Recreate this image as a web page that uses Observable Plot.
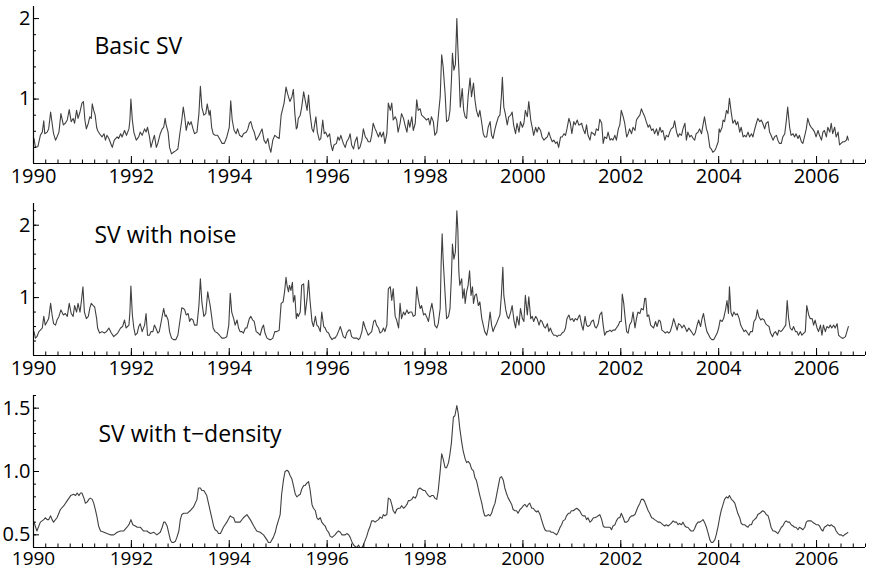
<!DOCTYPE html>
<html><head><meta charset="utf-8">
<script src="https://cdn.jsdelivr.net/npm/d3@7"></script>
<script src="https://cdn.jsdelivr.net/npm/@observablehq/plot@0.6"></script>
<style>
html,body{margin:0;padding:0;background:#fff;}
#chart{width:869px;}
#chart svg{display:block;}
</style></head><body><div id="chart"></div>
<script>
// [year, value] pairs
const basicSV = [
[1990.01,.51],[1990.04,.40],[1990.09,.41],[1990.14,.55],[1990.18,.59],[1990.21,.73],[1990.23,.57],[1990.28,.59],[1990.31,.63],[1990.35,.84],
[1990.38,.70],[1990.41,.57],[1990.45,.49],[1990.48,.53],[1990.52,.59],[1990.56,.82],[1990.61,.68],[1990.65,.70],[1990.69,.74],[1990.73,.87],
[1990.77,.72],[1990.81,.76],[1990.84,.70],[1990.88,.86],[1990.91,.76],[1990.95,.84],[1990.99,.95],[1991.02,.97],[1991.05,.74],[1991.08,.63],
[1991.12,.70],[1991.15,.78],[1991.18,.76],[1991.20,.94],[1991.23,.86],[1991.26,.80],[1991.29,.65],[1991.31,.61],[1991.35,.57],[1991.40,.53],
[1991.44,.57],[1991.47,.49],[1991.50,.55],[1991.54,.51],[1991.59,.43],[1991.61,.40],[1991.65,.49],[1991.71,.53],[1991.74,.51],[1991.78,.57],
[1991.81,.53],[1991.86,.61],[1991.90,.55],[1991.95,.63],[1991.97,.74],[1991.99,1.00],[1992.02,.74],[1992.05,.59],[1992.10,.49],[1992.15,.53],
[1992.18,.59],[1992.22,.55],[1992.27,.63],[1992.30,.59],[1992.33,.65],[1992.37,.53],[1992.40,.40],[1992.44,.49],[1992.47,.55],[1992.51,.40],
[1992.54,.45],[1992.59,.57],[1992.63,.63],[1992.66,.65],[1992.69,.76],[1992.71,.68],[1992.75,.59],[1992.78,.40],[1992.82,.32],[1992.86,.34],
[1992.91,.36],[1992.95,.38],[1992.99,.57],[1993.03,.74],[1993.06,.90],[1993.09,.78],[1993.12,.61],[1993.16,.72],[1993.19,.68],[1993.22,.72],
[1993.26,.63],[1993.29,.57],[1993.34,.59],[1993.38,.82],[1993.41,1.16],[1993.44,.90],[1993.48,.80],[1993.52,.82],[1993.55,.94],[1993.59,.80],
[1993.61,.86],[1993.64,.65],[1993.67,.57],[1993.71,.55],[1993.76,.55],[1993.80,.51],[1993.85,.45],[1993.90,.45],[1993.95,.53],[1994.00,.65],
[1994.03,.98],[1994.06,.74],[1994.10,.61],[1994.14,.57],[1994.17,.63],[1994.21,.55],[1994.26,.53],[1994.29,.57],[1994.35,.59],[1994.38,.63],
[1994.41,.70],[1994.44,.72],[1994.48,.63],[1994.51,.59],[1994.55,.49],[1994.59,.53],[1994.61,.55],[1994.67,.63],[1994.71,.49],[1994.75,.45],
[1994.79,.51],[1994.82,.40],[1994.85,.34],[1994.89,.49],[1994.93,.55],[1994.97,.53],[1995.02,.51],[1995.06,.80],[1995.10,.90],[1995.12,.95],
[1995.16,1.15],[1995.19,1.07],[1995.22,1.01],[1995.24,.97],[1995.28,1.03],[1995.31,1.12],[1995.34,.82],[1995.37,.63],[1995.39,.65],[1995.41,.76],
[1995.45,.80],[1995.48,.90],[1995.52,1.09],[1995.55,.99],[1995.59,.86],[1995.62,1.05],[1995.65,.82],[1995.69,.63],[1995.72,.59],[1995.77,.78],
[1995.80,.59],[1995.84,.49],[1995.87,.51],[1995.91,.74],[1995.94,.57],[1995.97,.59],[1996.01,.53],[1996.05,.57],[1996.08,.43],[1996.11,.36],
[1996.14,.43],[1996.19,.45],[1996.22,.53],[1996.25,.49],[1996.28,.55],[1996.33,.45],[1996.37,.40],[1996.40,.47],[1996.44,.51],[1996.47,.57],
[1996.50,.43],[1996.54,.38],[1996.57,.47],[1996.61,.53],[1996.64,.38],[1996.67,.40],[1996.71,.49],[1996.74,.63],[1996.78,.53],[1996.81,.51],
[1996.84,.47],[1996.88,.47],[1996.91,.55],[1996.94,.70],[1996.98,.63],[1997.01,.59],[1997.05,.53],[1997.08,.59],[1997.11,.53],[1997.15,.59],
[1997.18,.45],[1997.22,.57],[1997.25,.95],[1997.29,.86],[1997.32,.95],[1997.35,.74],[1997.39,.78],[1997.42,.74],[1997.45,.59],[1997.49,.70],
[1997.52,.82],[1997.56,.76],[1997.59,.68],[1997.63,.59],[1997.66,.74],[1997.69,.65],[1997.73,.78],[1997.76,.61],[1997.80,.70],[1997.83,.99],
[1997.86,.86],[1997.90,.88],[1997.93,.80],[1997.97,.78],[1998.00,.76],[1998.03,.74],[1998.07,.76],[1998.10,.68],[1998.13,.78],[1998.17,.72],
[1998.20,.55],[1998.24,.59],[1998.27,.78],[1998.31,1.03],[1998.34,1.55],[1998.37,1.40],[1998.41,1.07],[1998.44,.72],[1998.48,.74],[1998.51,.86],
[1998.54,1.24],[1998.56,1.57],[1998.59,1.36],[1998.62,1.43],[1998.65,2.00],[1998.67,1.65],[1998.70,1.24],[1998.72,.90],[1998.76,1.13],[1998.79,.86],
[1998.82,.78],[1998.85,.76],[1998.88,1.03],[1998.92,1.26],[1998.95,1.03],[1998.99,1.20],[1999.02,.99],[1999.05,.86],[1999.09,.78],[1999.12,.86],
[1999.15,.74],[1999.19,.57],[1999.22,.53],[1999.26,.53],[1999.29,.65],[1999.33,.72],[1999.36,.55],[1999.39,.51],[1999.43,.63],[1999.46,.70],
[1999.50,.78],[1999.53,.80],[1999.56,1.03],[1999.58,1.27],[1999.61,.90],[1999.64,.82],[1999.68,.68],[1999.71,.78],[1999.75,.80],[1999.78,.84],
[1999.81,.68],[1999.85,.57],[1999.88,.70],[1999.92,.59],[1999.95,.72],[1999.99,.65],[2000.02,.70],[2000.05,.86],[2000.09,.78],[2000.12,.97],
[2000.16,.74],[2000.19,.65],[2000.22,.55],[2000.26,.65],[2000.29,.59],[2000.32,.65],[2000.36,.61],[2000.39,.53],[2000.43,.49],[2000.46,.51],
[2000.50,.53],[2000.53,.59],[2000.56,.53],[2000.60,.47],[2000.63,.49],[2000.67,.45],[2000.70,.47],[2000.73,.40],[2000.77,.53],[2000.80,.53],
[2000.84,.57],[2000.87,.55],[2000.90,.63],[2000.94,.76],[2000.97,.70],[2001.00,.57],[2001.04,.72],[2001.07,.68],[2001.11,.74],[2001.14,.68],
[2001.16,.68],[2001.20,.70],[2001.23,.63],[2001.27,.57],[2001.30,.68],[2001.33,.55],[2001.37,.49],[2001.40,.59],[2001.44,.57],[2001.47,.55],
[2001.50,.63],[2001.54,.61],[2001.57,.75],[2001.61,.70],[2001.64,.45],[2001.67,.53],[2001.71,.51],[2001.74,.59],[2001.78,.49],[2001.81,.51],
[2001.84,.49],[2001.88,.55],[2001.91,.49],[2001.95,.63],[2001.98,.68],[2002.01,.86],[2002.05,.78],[2002.08,.70],[2002.12,.53],[2002.15,.57],
[2002.18,.63],[2002.22,.57],[2002.25,.65],[2002.29,.61],[2002.32,.74],[2002.35,.77],[2002.39,.80],[2002.42,.88],[2002.46,.82],[2002.49,.78],
[2002.52,.72],[2002.56,.65],[2002.59,.68],[2002.63,.61],[2002.66,.63],[2002.69,.57],[2002.73,.63],[2002.76,.55],[2002.80,.65],[2002.83,.59],
[2002.86,.61],[2002.90,.49],[2002.93,.55],[2002.97,.53],[2003.00,.59],[2003.03,.63],[2003.07,.65],[2003.10,.73],[2003.14,.59],[2003.17,.53],
[2003.20,.57],[2003.24,.55],[2003.27,.63],[2003.31,.70],[2003.34,.49],[2003.37,.59],[2003.41,.53],[2003.44,.55],[2003.48,.51],[2003.51,.49],
[2003.54,.57],[2003.58,.59],[2003.61,.63],[2003.65,.57],[2003.68,.68],[2003.71,.78],[2003.75,.63],[2003.78,.57],[2003.82,.40],[2003.85,.38],
[2003.88,.34],[2003.92,.36],[2003.95,.40],[2003.99,.47],[2004.01,.63],[2004.03,.59],[2004.07,.65],[2004.09,.74],[2004.12,.72],[2004.16,.86],
[2004.19,.82],[2004.22,1.01],[2004.26,.82],[2004.29,.70],[2004.33,.74],[2004.36,.68],[2004.39,.72],[2004.43,.59],[2004.46,.65],[2004.50,.53],
[2004.53,.55],[2004.56,.53],[2004.60,.59],[2004.63,.53],[2004.67,.57],[2004.70,.53],[2004.73,.61],[2004.77,.70],[2004.80,.76],[2004.84,.72],
[2004.87,.74],[2004.90,.70],[2004.94,.63],[2004.97,.70],[2005.01,.72],[2005.04,.59],[2005.07,.55],[2005.11,.49],[2005.14,.53],[2005.18,.55],
[2005.21,.49],[2005.24,.45],[2005.28,.45],[2005.31,.53],[2005.35,.57],[2005.38,.72],[2005.41,.90],[2005.45,.65],[2005.48,.55],[2005.52,.57],
[2005.55,.53],[2005.58,.57],[2005.62,.51],[2005.65,.55],[2005.69,.47],[2005.72,.45],[2005.76,.55],[2005.79,.63],[2005.82,.76],[2005.86,.68],
[2005.89,.65],[2005.92,.63],[2005.96,.59],[2005.99,.53],[2006.03,.61],[2006.06,.55],[2006.10,.49],[2006.13,.59],[2006.16,.61],[2006.20,.53],
[2006.23,.65],[2006.27,.59],[2006.30,.70],[2006.33,.57],[2006.37,.65],[2006.40,.53],[2006.44,.59],[2006.47,.43],[2006.50,.45],[2006.54,.47],
[2006.57,.47],[2006.61,.49],[2006.63,.54],[2006.65,.49]
];

const noiseSV = [
[1990.01,.53],[1990.04,.44],[1990.07,.46],[1990.11,.53],[1990.14,.55],[1990.18,.58],[1990.21,.74],[1990.24,.62],[1990.28,.67],[1990.31,.71],
[1990.35,.92],[1990.38,.76],[1990.41,.64],[1990.45,.62],[1990.48,.69],[1990.52,.74],[1990.56,.83],[1990.61,.76],[1990.65,.78],[1990.69,.74],
[1990.73,.92],[1990.77,.78],[1990.81,.74],[1990.84,.89],[1990.88,.80],[1990.91,.92],[1990.95,.80],[1990.98,.96],[1991.01,1.15],[1991.04,.80],
[1991.08,.71],[1991.12,.74],[1991.15,.85],[1991.18,.92],[1991.22,.89],[1991.25,.87],[1991.29,.71],[1991.31,.58],[1991.35,.51],[1991.40,.53],
[1991.45,.51],[1991.49,.53],[1991.54,.58],[1991.59,.51],[1991.64,.46],[1991.67,.48],[1991.72,.51],[1991.78,.58],[1991.82,.60],[1991.86,.69],
[1991.89,.58],[1991.95,.62],[1991.97,.80],[1991.99,1.16],[1992.02,.76],[1992.05,.58],[1992.08,.48],[1992.12,.51],[1992.15,.60],[1992.18,.64],
[1992.22,.53],[1992.27,.62],[1992.30,.78],[1992.33,.48],[1992.37,.48],[1992.40,.53],[1992.44,.53],[1992.47,.62],[1992.50,.58],[1992.54,.51],
[1992.57,.53],[1992.61,.67],[1992.64,.78],[1992.66,.85],[1992.69,.74],[1992.71,.76],[1992.75,.69],[1992.78,.53],[1992.82,.44],[1992.86,.42],
[1992.91,.42],[1992.95,.48],[1992.99,.67],[1993.03,.86],[1993.06,.85],[1993.09,.83],[1993.12,.76],[1993.16,.78],[1993.19,.67],[1993.22,.71],
[1993.26,.69],[1993.29,.62],[1993.34,.62],[1993.38,.89],[1993.41,1.26],[1993.44,.94],[1993.48,.74],[1993.52,.78],[1993.56,1.08],[1993.59,.96],
[1993.61,.89],[1993.64,.74],[1993.67,.58],[1993.71,.53],[1993.76,.51],[1993.80,.48],[1993.85,.44],[1993.90,.44],[1993.95,.46],[1993.99,.62],
[1994.02,1.06],[1994.05,.80],[1994.09,.71],[1994.12,.62],[1994.16,.69],[1994.19,.58],[1994.22,.53],[1994.26,.53],[1994.29,.51],[1994.33,.58],
[1994.36,.58],[1994.41,.71],[1994.44,.74],[1994.48,.69],[1994.51,.67],[1994.55,.53],[1994.59,.51],[1994.63,.48],[1994.67,.58],[1994.70,.62],
[1994.73,.51],[1994.77,.44],[1994.82,.42],[1994.85,.42],[1994.89,.44],[1994.93,.53],[1994.97,.53],[1995.02,.55],[1995.06,.92],[1995.10,.94],
[1995.13,1.08],[1995.16,1.28],[1995.18,1.17],[1995.21,1.08],[1995.23,1.17],[1995.26,1.10],[1995.29,1.21],[1995.31,.94],[1995.34,1.03],[1995.37,.71],
[1995.39,.78],[1995.41,.74],[1995.45,.80],[1995.48,1.17],[1995.52,1.19],[1995.55,.76],[1995.59,.99],[1995.62,1.24],[1995.65,.96],[1995.69,.67],
[1995.72,.60],[1995.76,.74],[1995.79,.62],[1995.82,.60],[1995.86,.53],[1995.89,.80],[1995.93,.60],[1995.96,.58],[1995.99,.53],[1996.03,.51],
[1996.06,.46],[1996.10,.42],[1996.13,.44],[1996.16,.44],[1996.20,.48],[1996.23,.53],[1996.27,.60],[1996.30,.53],[1996.33,.46],[1996.37,.44],
[1996.40,.51],[1996.44,.55],[1996.47,.55],[1996.50,.46],[1996.54,.44],[1996.57,.44],[1996.61,.44],[1996.64,.42],[1996.67,.44],[1996.71,.53],
[1996.74,.67],[1996.78,.58],[1996.81,.53],[1996.84,.48],[1996.88,.51],[1996.91,.53],[1996.95,.67],[1996.98,.69],[1997.01,.62],[1997.05,.58],
[1997.08,.51],[1997.12,.53],[1997.15,.58],[1997.18,.53],[1997.22,.62],[1997.25,1.12],[1997.29,1.15],[1997.32,.96],[1997.35,1.12],[1997.39,.74],
[1997.42,.69],[1997.46,.58],[1997.49,.92],[1997.52,.71],[1997.56,.80],[1997.59,.76],[1997.63,.83],[1997.66,.78],[1997.69,.80],[1997.73,.80],
[1997.76,.74],[1997.80,.76],[1997.83,1.15],[1997.86,.99],[1997.90,.85],[1997.93,.89],[1997.97,.76],[1998.00,.78],[1998.03,.74],[1998.07,.67],
[1998.10,.80],[1998.14,.92],[1998.17,.80],[1998.20,.62],[1998.24,.58],[1998.27,.64],[1998.31,.85],[1998.33,1.49],[1998.35,1.88],[1998.37,1.53],
[1998.41,1.05],[1998.44,.71],[1998.48,.74],[1998.51,.85],[1998.54,1.31],[1998.56,1.74],[1998.59,1.53],[1998.62,1.63],[1998.65,2.20],[1998.67,1.95],
[1998.69,1.37],[1998.71,1.17],[1998.75,1.26],[1998.77,.99],[1998.80,1.12],[1998.82,.92],[1998.85,1.08],[1998.88,1.17],[1998.91,1.37],[1998.94,1.03],
[1998.97,1.15],[1998.99,.92],[1999.02,1.03],[1999.05,1.05],[1999.09,.89],[1999.12,.94],[1999.16,.71],[1999.19,.62],[1999.22,.53],[1999.26,.48],
[1999.29,.58],[1999.33,.80],[1999.36,.62],[1999.39,.53],[1999.43,.60],[1999.46,.64],[1999.50,.71],[1999.53,.76],[1999.56,1.03],[1999.59,1.42],
[1999.61,1.03],[1999.65,.83],[1999.68,.74],[1999.71,.71],[1999.75,.80],[1999.78,.89],[1999.82,.67],[1999.85,.58],[1999.88,.74],[1999.92,.62],
[1999.95,.85],[1999.99,.71],[2000.02,.67],[2000.05,1.03],[2000.09,.76],[2000.12,1.01],[2000.16,.71],[2000.19,.74],[2000.22,.67],[2000.26,.74],
[2000.29,.71],[2000.33,.62],[2000.36,.69],[2000.39,.67],[2000.43,.60],[2000.46,.58],[2000.50,.64],[2000.53,.53],[2000.56,.58],[2000.60,.51],
[2000.63,.48],[2000.67,.48],[2000.70,.46],[2000.73,.48],[2000.77,.48],[2000.80,.51],[2000.84,.53],[2000.87,.58],[2000.90,.71],[2000.94,.76],
[2000.97,.69],[2001.01,.71],[2001.04,.67],[2001.07,.71],[2001.11,.69],[2001.14,.74],[2001.16,.76],[2001.20,.62],[2001.23,.55],[2001.27,.74],
[2001.30,.62],[2001.33,.60],[2001.37,.62],[2001.40,.67],[2001.44,.69],[2001.47,.60],[2001.50,.58],[2001.54,.64],[2001.57,.76],[2001.61,.80],
[2001.64,.62],[2001.67,.48],[2001.71,.53],[2001.74,.53],[2001.78,.55],[2001.81,.53],[2001.84,.55],[2001.88,.55],[2001.91,.58],[2001.95,.62],
[2001.98,.67],[2002.01,.67],[2002.03,1.05],[2002.06,.92],[2002.09,.71],[2002.12,.53],[2002.15,.51],[2002.18,.62],[2002.22,.67],[2002.25,.80],
[2002.29,.58],[2002.32,.71],[2002.35,.80],[2002.39,.78],[2002.42,.85],[2002.46,.83],[2002.49,.99],[2002.51,.99],[2002.54,.74],[2002.57,.76],
[2002.61,.62],[2002.64,.60],[2002.67,.58],[2002.71,.67],[2002.74,.60],[2002.78,.69],[2002.81,.67],[2002.84,.55],[2002.88,.53],[2002.91,.51],
[2002.95,.53],[2002.98,.51],[2003.01,.53],[2003.05,.62],[2003.08,.71],[2003.12,.62],[2003.15,.55],[2003.18,.64],[2003.22,.62],[2003.25,.58],
[2003.29,.62],[2003.32,.58],[2003.35,.53],[2003.39,.58],[2003.42,.55],[2003.46,.51],[2003.49,.48],[2003.52,.51],[2003.56,.62],[2003.59,.69],
[2003.63,.60],[2003.66,.71],[2003.69,.78],[2003.73,.62],[2003.76,.53],[2003.80,.48],[2003.83,.44],[2003.86,.42],[2003.90,.42],[2003.93,.46],
[2003.97,.51],[2004.00,.58],[2004.03,.69],[2004.07,.67],[2004.10,.71],[2004.14,.83],[2004.17,.96],[2004.20,.78],[2004.22,1.15],[2004.25,.80],
[2004.28,.74],[2004.31,.80],[2004.35,.76],[2004.38,.78],[2004.42,.71],[2004.45,.62],[2004.48,.58],[2004.52,.53],[2004.55,.55],[2004.59,.51],
[2004.62,.48],[2004.65,.53],[2004.69,.53],[2004.72,.67],[2004.76,.71],[2004.79,.83],[2004.82,.74],[2004.86,.69],[2004.89,.71],[2004.93,.69],
[2004.96,.64],[2004.99,.62],[2005.03,.60],[2005.06,.51],[2005.10,.46],[2005.13,.51],[2005.16,.53],[2005.20,.48],[2005.23,.55],[2005.27,.53],
[2005.30,.55],[2005.33,.58],[2005.37,.62],[2005.40,.96],[2005.43,.71],[2005.46,.58],[2005.50,.55],[2005.53,.60],[2005.57,.53],[2005.60,.53],
[2005.63,.48],[2005.67,.53],[2005.70,.48],[2005.74,.51],[2005.77,.53],[2005.80,.89],[2005.84,.76],[2005.87,.71],[2005.91,.71],[2005.94,.62],
[2005.97,.69],[2006.01,.58],[2006.04,.53],[2006.08,.62],[2006.11,.48],[2006.14,.62],[2006.18,.53],[2006.21,.60],[2006.25,.58],[2006.28,.62],
[2006.31,.58],[2006.35,.62],[2006.38,.58],[2006.42,.64],[2006.45,.48],[2006.48,.46],[2006.52,.44],[2006.55,.44],[2006.59,.46],[2006.62,.53],
[2006.65,.60]
];

const tDensitySV = [
[1990.01,.60],[1990.07,.53],[1990.14,.60],[1990.21,.62],[1990.24,.635],[1990.28,.62],[1990.31,.62],[1990.35,.65],[1990.38,.62],[1990.41,.60],
[1990.48,.635],[1990.55,.70],[1990.62,.73],[1990.69,.77],[1990.76,.81],[1990.82,.82],[1990.86,.81],[1990.89,.83],[1990.93,.81],[1990.96,.83],
[1990.99,.83],[1991.03,.79],[1991.06,.75],[1991.10,.76],[1991.13,.78],[1991.16,.79],[1991.20,.78],[1991.23,.75],[1991.27,.69],[1991.30,.635],
[1991.33,.57],[1991.37,.53],[1991.44,.52],[1991.50,.51],[1991.57,.50],[1991.64,.50],[1991.71,.52],[1991.78,.53],[1991.84,.53],[1991.91,.56],
[1991.95,.58],[1991.99,.62],[1992.03,.58],[1992.08,.57],[1992.12,.56],[1992.18,.56],[1992.25,.53],[1992.32,.53],[1992.35,.52],[1992.39,.51],
[1992.46,.52],[1992.52,.50],[1992.59,.52],[1992.63,.56],[1992.66,.60],[1992.69,.60],[1992.73,.57],[1992.76,.52],[1992.80,.455],[1992.83,.44],
[1992.86,.44],[1992.90,.45],[1992.93,.48],[1992.97,.53],[1993.00,.62],[1993.03,.66],[1993.07,.67],[1993.14,.67],[1993.20,.69],[1993.27,.72],
[1993.34,.78],[1993.37,.87],[1993.41,.87],[1993.44,.85],[1993.48,.85],[1993.54,.81],[1993.61,.69],[1993.68,.57],[1993.71,.54],[1993.75,.53],
[1993.78,.51],[1993.82,.51],[1993.88,.56],[1993.95,.60],[1994.02,.65],[1994.05,.64],[1994.09,.635],[1994.12,.60],[1994.16,.60],[1994.22,.60],
[1994.29,.635],[1994.36,.66],[1994.43,.62],[1994.50,.57],[1994.56,.53],[1994.63,.52],[1994.70,.50],[1994.77,.46],[1994.80,.44],[1994.84,.44],
[1994.90,.48],[1994.94,.52],[1994.97,.57],[1995.01,.62],[1995.04,.66],[1995.07,.82],[1995.11,.94],[1995.14,1.00],[1995.18,1.01],[1995.21,1.00],
[1995.24,.97],[1995.28,.94],[1995.31,.89],[1995.35,.82],[1995.38,.80],[1995.41,.81],[1995.45,.82],[1995.48,.86],[1995.52,.89],[1995.55,.89],
[1995.59,.91],[1995.62,.92],[1995.65,.86],[1995.69,.74],[1995.72,.71],[1995.76,.69],[1995.79,.635],[1995.82,.62],[1995.86,.635],[1995.89,.60],
[1995.93,.58],[1995.96,.57],[1995.99,.54],[1996.03,.52],[1996.06,.49],[1996.10,.48],[1996.13,.49],[1996.16,.50],[1996.20,.52],[1996.23,.53],
[1996.27,.52],[1996.30,.50],[1996.33,.50],[1996.37,.50],[1996.40,.51],[1996.44,.50],[1996.47,.48],[1996.50,.45],[1996.54,.42],[1996.57,.41],
[1996.61,.40],[1996.64,.42],[1996.67,.40],[1996.71,.40],[1996.74,.42],[1996.78,.46],[1996.81,.49],[1996.84,.53],[1996.88,.57],[1996.91,.61],
[1996.95,.61],[1996.98,.60],[1997.01,.61],[1997.05,.62],[1997.08,.64],[1997.12,.63],[1997.15,.66],[1997.18,.65],[1997.22,.66],[1997.25,.79],
[1997.29,.78],[1997.32,.74],[1997.35,.69],[1997.39,.67],[1997.42,.70],[1997.46,.71],[1997.49,.71],[1997.52,.73],[1997.56,.71],[1997.59,.72],
[1997.63,.74],[1997.66,.77],[1997.69,.77],[1997.73,.78],[1997.76,.80],[1997.80,.79],[1997.83,.81],[1997.86,.86],[1997.90,.87],[1997.93,.86],
[1997.97,.85],[1998.00,.85],[1998.03,.83],[1998.07,.81],[1998.10,.80],[1998.14,.81],[1998.17,.81],[1998.20,.79],[1998.24,.78],[1998.27,.85],
[1998.31,1.005],[1998.34,1.14],[1998.37,1.10],[1998.41,1.03],[1998.44,1.03],[1998.48,1.07],[1998.51,1.14],[1998.54,1.23],[1998.58,1.43],[1998.61,1.44],
[1998.65,1.52],[1998.68,1.455],[1998.71,1.34],[1998.75,1.23],[1998.78,1.16],[1998.82,1.10],[1998.85,1.07],[1998.88,1.08],[1998.92,1.06],[1998.95,1.02],
[1998.99,1.005],[1999.02,.95],[1999.05,.93],[1999.09,.86],[1999.12,.81],[1999.16,.75],[1999.19,.69],[1999.22,.65],[1999.26,.65],[1999.29,.66],
[1999.33,.65],[1999.36,.67],[1999.39,.71],[1999.43,.75],[1999.46,.81],[1999.50,.89],[1999.53,.95],[1999.56,.96],[1999.60,.93],[1999.63,.87],
[1999.67,.82],[1999.70,.79],[1999.73,.77],[1999.77,.74],[1999.80,.70],[1999.84,.69],[1999.87,.69],[1999.90,.67],[1999.94,.70],[1999.97,.71],
[2000.01,.73],[2000.04,.74],[2000.08,.72],[2000.11,.74],[2000.14,.75],[2000.18,.71],[2000.21,.71],[2000.25,.69],[2000.28,.68],[2000.31,.69],
[2000.35,.66],[2000.38,.62],[2000.42,.57],[2000.45,.54],[2000.48,.53],[2000.52,.53],[2000.55,.53],[2000.58,.52],[2000.62,.52],[2000.65,.51],
[2000.69,.50],[2000.72,.52],[2000.76,.56],[2000.79,.58],[2000.82,.61],[2000.86,.62],[2000.89,.65],[2000.93,.67],[2000.96,.67],[2000.99,.69],
[2001.03,.69],[2001.06,.70],[2001.10,.71],[2001.13,.70],[2001.16,.69],[2001.20,.66],[2001.23,.65],[2001.27,.65],[2001.30,.62],[2001.33,.635],
[2001.37,.60],[2001.40,.61],[2001.44,.635],[2001.47,.635],[2001.50,.64],[2001.54,.65],[2001.57,.66],[2001.61,.62],[2001.64,.57],[2001.67,.56],
[2001.71,.56],[2001.74,.56],[2001.78,.56],[2001.81,.54],[2001.84,.57],[2001.88,.58],[2001.91,.61],[2001.95,.635],[2001.98,.635],[2002.01,.67],
[2002.05,.635],[2002.08,.60],[2002.12,.60],[2002.15,.61],[2002.18,.635],[2002.22,.65],[2002.25,.65],[2002.29,.66],[2002.32,.69],[2002.35,.72],
[2002.39,.75],[2002.42,.78],[2002.46,.78],[2002.49,.76],[2002.52,.73],[2002.56,.69],[2002.59,.67],[2002.63,.635],[2002.66,.63],[2002.69,.62],
[2002.73,.61],[2002.76,.60],[2002.80,.60],[2002.83,.59],[2002.86,.58],[2002.90,.57],[2002.93,.58],[2002.97,.57],[2003.00,.58],[2003.03,.59],
[2003.07,.61],[2003.10,.60],[2003.14,.60],[2003.17,.58],[2003.20,.59],[2003.24,.58],[2003.27,.60],[2003.31,.57],[2003.34,.56],[2003.37,.56],
[2003.41,.54],[2003.44,.53],[2003.48,.53],[2003.51,.55],[2003.54,.58],[2003.58,.60],[2003.61,.60],[2003.65,.61],[2003.68,.62],[2003.71,.60],
[2003.75,.56],[2003.78,.52],[2003.82,.46],[2003.85,.44],[2003.88,.44],[2003.92,.46],[2003.95,.50],[2003.99,.57],[2004.02,.635],[2004.05,.69],
[2004.09,.74],[2004.12,.78],[2004.16,.80],[2004.19,.79],[2004.22,.81],[2004.26,.78],[2004.29,.77],[2004.33,.75],[2004.36,.71],[2004.39,.67],
[2004.43,.635],[2004.46,.59],[2004.50,.58],[2004.53,.58],[2004.56,.57],[2004.60,.56],[2004.63,.58],[2004.67,.58],[2004.70,.61],[2004.73,.62],
[2004.77,.635],[2004.80,.66],[2004.84,.67],[2004.87,.68],[2004.90,.69],[2004.94,.68],[2004.97,.66],[2005.01,.65],[2005.04,.61],[2005.07,.56],
[2005.11,.53],[2005.14,.53],[2005.18,.52],[2005.21,.51],[2005.24,.53],[2005.28,.56],[2005.31,.57],[2005.35,.60],[2005.38,.61],[2005.41,.60],
[2005.45,.60],[2005.48,.58],[2005.52,.57],[2005.55,.56],[2005.58,.56],[2005.62,.54],[2005.65,.56],[2005.69,.55],[2005.72,.54],[2005.76,.56],
[2005.79,.60],[2005.82,.61],[2005.86,.61],[2005.89,.61],[2005.92,.60],[2005.96,.59],[2005.99,.58],[2006.03,.58],[2006.06,.57],[2006.10,.54],
[2006.13,.53],[2006.16,.56],[2006.20,.57],[2006.23,.58],[2006.27,.57],[2006.30,.58],[2006.33,.57],[2006.37,.56],[2006.40,.53],[2006.44,.51],
[2006.47,.50],[2006.50,.50],[2006.54,.49],[2006.57,.50],[2006.61,.51],[2006.64,.52]
];

const panelTitles = ["Basic SV", "SV with noise", "SV with t\u2212density"];
const yearLabels = [1990, 1992, 1994, 1996, 1998, 2000, 2002, 2004, 2006];
const yLabels1 = [1, 2];
const yLabels2 = [1, 2];
const yLabels3 = [0.5, 1.0, 1.5];

const FONT = "'Open Sans', 'DejaVu Sans', sans-serif";
const xQuarterTicks = d3.range(0, 69).map(i => 1990 + i * 0.25);

function panel({data, title, yDomain, yStep, yLabels, yFormat, marginTop, marginBottom, titleDx, titleDy, labelPad, labelSize}) {
  const yMinor = d3.range(Math.round(yDomain[0] / yStep), Math.round(yDomain[1] / yStep) + 1).map(i => +(i * yStep).toFixed(3)).filter(v => v >= yDomain[0] && v <= yDomain[1]);
  return Plot.plot({
    width: 869, height: 190,
    marginLeft: 33, marginRight: 4, marginTop, marginBottom,
    style: {fontFamily: FONT, fontSize: "20px", color: "#000", background: "#fff", overflow: "visible"},
    x: {domain: [1990, 2007]},
    y: {domain: yDomain},
    marks: [
      Plot.line(data, {x: d => d[0], y: d => d[1], stroke: "#404040", strokeWidth: 1.1, clip: true}),
      Plot.ruleY([yDomain[0]], {stroke: "#000", strokeWidth: 1.2}),
      Plot.ruleX([1990], {stroke: "#000", strokeWidth: 1.2}),
      Plot.axisX({ticks: xQuarterTicks, tickSize: -3.5, tickFormat: () => "", label: null, stroke: "#000"}),
      Plot.axisX({ticks: yearLabels, tickSize: -7, tickFormat: () => "", label: null, stroke: "#000"}),
      Plot.axisX({ticks: yearLabels, tickSize: 0, tickPadding: labelPad, tickFormat: d => String(d), label: null, fontSize: labelSize, fill: "#000"}),
      Plot.axisY({ticks: yMinor, tickSize: -3, tickFormat: () => "", label: null, stroke: "#000"}),
      Plot.axisY({ticks: yLabels, tickSize: -6, tickFormat: () => "", label: null, stroke: "#000"}),
      Plot.axisY({ticks: yLabels, tickSize: 0, tickPadding: 3, tickFormat: yFormat, label: null, fontSize: 20, fill: "#000"}),
      Plot.text([title], {frameAnchor: "top-left", dx: titleDx, dy: titleDy, text: d => d, textAnchor: "start", lineAnchor: "bottom", fontSize: 23, fill: "#000"})
    ]
  });
}

const chart = document.getElementById("chart");
chart.append(panel({data: basicSV, title: panelTitles[0], yDomain: [0.2, 2.15], yStep: 0.2, yLabels: yLabels1, yFormat: d => String(d),
  marginTop: 6, marginBottom: 27, titleDx: 61, titleDy: 47, labelPad: 5, labelSize: 20}));
chart.append(panel({data: noiseSV, title: panelTitles[1], yDomain: [0.2, 2.3], yStep: 0.2, yLabels: yLabels2, yFormat: d => String(d),
  marginTop: 13, marginBottom: 25, titleDx: 61, titleDy: 39, labelPad: 5, labelSize: 20}));
chart.append(panel({data: tDensitySV, title: panelTitles[2], yDomain: [0.4, 1.6], yStep: 0.1, yLabels: yLabels3, yFormat: d3.format(".1f"),
  marginTop: 15, marginBottom: 23, titleDx: 65, titleDy: 46, labelPad: 4, labelSize: 19}));
</script></body></html>
